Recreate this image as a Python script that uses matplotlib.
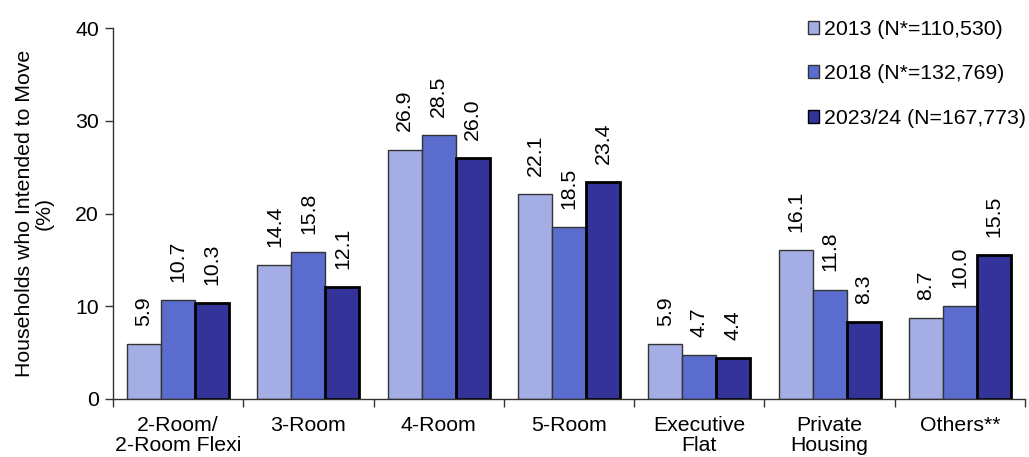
import matplotlib
matplotlib.use("Agg")
import matplotlib.pyplot as plt
import numpy as np

plt.rcParams['font.family'] = ['Liberation Sans', 'DejaVu Sans']

categories = ["2-Room/\n2-Room Flexi", "3-Room", "4-Room", "5-Room",
              "Executive\nFlat", "Private\nHousing", "Others**"]
series_labels = ["2013 (N*=110,530)", "2018 (N*=132,769)", "2023/24 (N=167,773)"]
values_2013 = [5.9, 14.4, 26.9, 22.1, 5.9, 16.1, 8.7]
values_2018 = [10.7, 15.8, 28.5, 18.5, 4.7, 11.8, 10.0]
values_2023 = [10.3, 12.1, 26.0, 23.4, 4.4, 8.3, 15.5]
y_ticks = [0, 10, 20, 30, 40]

colors = ["#A4AEE4", "#5A6DCF", "#343399"]
edge_colors = ["#333333", "#333333", "#000000"]
edge_widths = [1.0, 1.0, 2.0]

fig = plt.figure(figsize=(10.29, 4.57), dpi=100)
ax = fig.add_axes([113 / 1029, 1 - 399 / 457, 912 / 1029, 371 / 457])

x = np.arange(len(categories))
bar_w = 0.261
fs = 15.3

for i, (vals, lab) in enumerate(zip([values_2013, values_2018, values_2023], series_labels)):
    pos = x + (i - 1) * bar_w
    bars = ax.bar(pos, vals, width=bar_w, color=colors[i], edgecolor=edge_colors[i],
                  linewidth=edge_widths[i], label=lab, zorder=2)
    for b, v in zip(bars, vals):
        ax.annotate(f"{v:.1f}", (b.get_x() + b.get_width() / 2, v),
                    xytext=(0, 13), textcoords="offset points",
                    rotation=90, ha="center", va="bottom", fontsize=fs)

ax.set_xlim(-0.5, len(categories) - 0.5)
ax.set_ylim(0, 40)
ax.set_yticks(y_ticks)
ax.tick_params(axis="y", labelsize=fs, length=6, width=1, color="#333333", pad=4)

ax.set_xticks(x)
ax.set_xticklabels(categories, fontsize=fs, linespacing=1.06)
ax.tick_params(axis="x", which="major", length=0, pad=12)
ax.set_xticks(np.arange(len(categories) + 1) - 0.5, minor=True)
ax.tick_params(axis="x", which="minor", length=6, width=1, color="#333333")

for s in ["top", "right"]:
    ax.spines[s].set_visible(False)
for s in ["left", "bottom"]:
    ax.spines[s].set_color("#333333")
    ax.spines[s].set_linewidth(1)

ax.set_ylabel("Households who Intended to Move\n(%)", fontsize=fs, linespacing=1.0,
              labelpad=16)

leg = ax.legend(loc="upper right", bbox_to_anchor=(1.01, 1.045), frameon=False,
                fontsize=fs, handlelength=0.55, handleheight=0.55, handletextpad=0.2,
                labelspacing=1.2, borderaxespad=0)
for h in leg.legend_handles:
    h.set_linewidth(1.0)

fig.savefig("out.png", dpi=100)
